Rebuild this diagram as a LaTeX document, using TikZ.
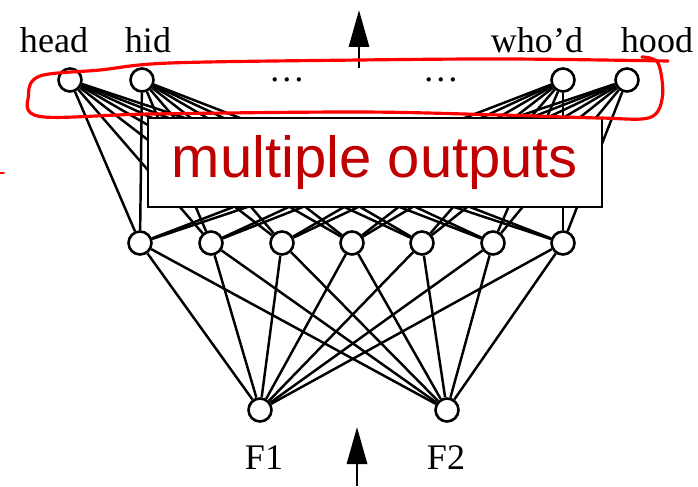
\documentclass[tikz,border=0pt]{standalone}
\usepackage{fontspec}
\setmainfont{Liberation Serif}
\newfontfamily\boxfont{Liberation Sans}
\usepackage{tikz}
\usetikzlibrary{arrows.meta, positioning}
\definecolor{mydark}{RGB}{0,0,0}
\definecolor{myred}{RGB}{255,0,0}
\definecolor{txtred}{RGB}{192,0,0}
\tikzset{
  unit/.style={circle, draw=mydark, fill=white, minimum size=0.46cm,
    inner sep=0pt, line width=1.5pt},
  wire/.style={line width=1.4pt, color=mydark},
  wordlbl/.style={anchor=base, font=\fontsize{20.5}{22}\selectfont},
  flow/.style={-{Triangle[length=0.74cm, width=0.4cm]}, line width=1.7pt, color=mydark},
  outbox/.style={rectangle, draw=mydark, fill=white, line width=1.3pt,
    minimum width=9.08cm, minimum height=1.78cm,
    font=\boxfont\fontsize{33}{36}\selectfont, text=txtred},
  scribble/.style={color=myred, line width=1.8pt, line cap=round, line join=round}
}

\begin{document}
\begin{tikzpicture}
  \useasboundingbox (0,0) rectangle (13.96,9.72);

  % ── Input units ───────────────────────────────────────────────────────────
  \node[unit] (f1) at (5.20,1.52) {};
  \node[unit] (f2) at (8.94,1.52) {};

  % ── Hidden units ──────────────────────────────────────────────────────────
  \foreach \i/\x in {1/2.80, 2/4.22, 3/5.64, 4/7.04, 5/8.44, 6/9.86, 7/11.26} {
    \node[unit] (h\i) at (\x,4.86) {};
  }

  % ── Output units ──────────────────────────────────────────────────────────
  \node[unit] (o1) at (1.40,8.12) {};
  \node[unit] (o2) at (2.84,8.12) {};
  \node[unit] (o3) at (11.26,8.12) {};
  \node[unit] (o4) at (12.54,8.12) {};

  % ── Weights ───────────────────────────────────────────────────────────────
  \foreach \j in {1,...,7} {
    \foreach \i in {1,2} {
      \draw[wire] (f\i) -- (h\j);
    }
    \foreach \k in {1,...,4} {
      \draw[wire] (h\j) -- (o\k);
    }
  }

  % ── Labels ────────────────────────────────────────────────────────────────
  \node[wordlbl] (lhead) at (1.08,8.66) {head};
  \node[wordlbl] (lhid) at (2.96,8.66) {hid};
  \node[wordlbl] (lwhod) at (10.74,8.66) {who’d};
  \node[wordlbl] (lhood) at (13.14,8.66) {hood};
  \node[wordlbl] (dots1) at (5.74,8.08) {\dots};
  \node[wordlbl] (dots2) at (8.82,8.08) {\dots};
  \node[wordlbl] (lf1) at (5.28,0.32) {F1};
  \node[wordlbl] (lf2) at (8.92,0.32) {F2};

  % ── Direction arrows ──────────────────────────────────────────────────────
  \coordinate (inbot) at (7.14,0);
  \coordinate (intop) at (7.14,1.18);
  \coordinate (outbot) at (7.18,8.36);
  \coordinate (outtop) at (7.18,9.52);
  \draw[flow] (inbot) -- (intop);
  \draw[flow] (outbot) -- (outtop);

  % ── Annotation box ────────────────────────────────────────────────────────
  \node[outbox] (multi) at (7.50,6.47) {multiple outputs};

  % ── Hand-drawn loop round the outputs ─────────────────────────────────────
  \draw[scribble] plot[smooth, tension=0.55] coordinates {
    (13.36,8.50) (10.20,8.54) (7.20,8.52) (3.40,8.46) (2.00,8.32)
    (0.80,8.20) (0.57,7.82) (0.80,7.39) (3.00,7.44) (7.20,7.48)
    (10.00,7.42) (12.00,7.36) (13.00,7.37) (13.25,7.80) (13.16,8.46) (12.84,8.58)};
  \draw[scribble, line width=1pt] (0,6.26) -- (0.08,6.26);
\end{tikzpicture}
\end{document}
